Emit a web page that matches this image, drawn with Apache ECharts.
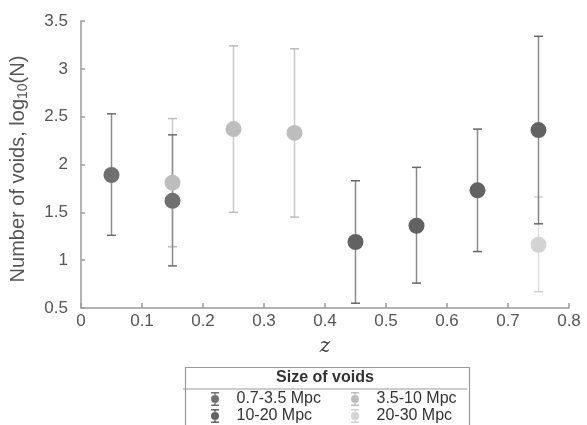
<!DOCTYPE html>
<html>
<head>
    <meta charset="utf-8">
    <title>Voids</title>
    <script src="https://cdn.jsdelivr.net/npm/echarts@6/dist/echarts.min.js"></script>
</head>
<body style="margin:0">
    <div id="main" style="width:587px;height:425px;"></div>
</body>
<script type="text/javascript">
    // categories (void sizes) and their points: z, log10(N), lower, upper
    var sizeNames = ['0.7-3.5 Mpc', '3.5-10 Mpc', '10-20 Mpc', '20-30 Mpc'];
    var zSmall = [0.05, 0.15];
    var nSmall = [1.89, 1.62];
    var loSmall = [1.26, 0.94];
    var hiSmall = [2.53, 2.31];

    var zMid = [0.15, 0.25, 0.35];
    var nMid = [1.81, 2.37, 2.33];
    var loMid = [1.14, 1.50, 1.45];
    var hiMid = [2.48, 3.24, 3.21];

    var zLarge = [0.45, 0.55, 0.65, 0.75];
    var nLarge = [1.19, 1.36, 1.73, 2.36];
    var loLarge = [0.55, 0.76, 1.09, 1.38];
    var hiLarge = [1.83, 1.97, 2.37, 3.34];

    var zHuge = [0.75];
    var nHuge = [1.16];
    var loHuge = [0.67];
    var hiHuge = [1.66];

    var dotColors = ['#707070', '#bdbdbd', '#626262', '#d3d3d3'];
    var barColors = ['#8e8e8e', '#c9c9c9', '#8a8a8a', '#dcdcdc'];
    var capColors = ['#6c6c6c', '#bcbcbc', '#666666', '#d0d0d0'];

    var groups = [
        [zSmall, nSmall, loSmall, hiSmall],
        [zMid, nMid, loMid, hiMid],
        [zLarge, nLarge, loLarge, hiLarge],
        [zHuge, nHuge, loHuge, hiHuge]
    ];

    function errorSeries(idx) {
        var g = groups[idx];
        return {
            type: 'custom',
            name: sizeNames[idx],
            z: 2,
            itemStyle: { color: dotColors[idx] },
            data: g[0].map(function (z, i) { return [z, g[2][i], g[3][i]]; }),
            renderItem: function (params, api) {
                var lo = api.coord([api.value(0), api.value(1)]);
                var hi = api.coord([api.value(0), api.value(2)]);
                var w = 4.5;
                return {
                    type: 'group',
                    children: [
                        { type: 'line', shape: { x1: lo[0], y1: lo[1], x2: hi[0], y2: hi[1] },
                          style: { stroke: barColors[idx], lineWidth: 1.5 } },
                        { type: 'line', shape: { x1: lo[0] - w, y1: lo[1], x2: lo[0] + w, y2: lo[1] },
                          style: { stroke: capColors[idx], lineWidth: 1.5 } },
                        { type: 'line', shape: { x1: hi[0] - w, y1: hi[1], x2: hi[0] + w, y2: hi[1] },
                          style: { stroke: capColors[idx], lineWidth: 1.5 } }
                    ]
                };
            }
        };
    }

    function dotSeries(idx) {
        var g = groups[idx];
        return {
            type: 'scatter',
            name: sizeNames[idx],
            z: 3,
            symbolSize: 16,
            itemStyle: { color: dotColors[idx], opacity: 1 },
            data: g[0].map(function (z, i) { return [z, g[1][i]]; })
        };
    }

    // dots first so the legend picks up their colours; z keeps them on top
    var series = [];
    [1, 3, 0, 2].forEach(function (i) { series.push(dotSeries(i)); });
    [1, 3, 0, 2].forEach(function (i) { series.push(errorSeries(i)); });

    var font = 'Liberation Sans, Arial, sans-serif';
    var axisGray = '#9a9a9a';
    // little dot with error bar, for the legend
    var legendIcon = 'path://M1,0H9V1.4H5.7V3.2H4.3V1.4H1Z M1,7A4,4 0 1,0 9,7A4,4 0 1,0 1,7Z M4.3,10.8H5.7V12.6H9V14H1V12.6H4.3Z';

    var legendPos = [[211, 391], [351, 391], [211, 408], [351, 408]];
    var legends = sizeNames.map(function (name, i) {
        return {
            left: legendPos[i][0], top: legendPos[i][1],
            itemWidth: 9, itemHeight: 14, icon: legendIcon, padding: 0,
            selectedMode: false,
            formatter: '{t|{name}}',
            textStyle: {
                rich: { t: { fontFamily: font, fontSize: 16, color: '#333', padding: [0, 0, 0, 12] } }
            },
            data: [name]
        };
    });

    var chart = echarts.init(document.getElementById('main'));
    chart.setOption({
        backgroundColor: '#fff',
        animation: false,
        grid: { left: 76, right: 18, top: 21, bottom: 117 },
        xAxis: {
            type: 'value', min: 0, max: 0.8, interval: 0.1,
            name: 'z', nameLocation: 'middle', nameGap: 29,
            nameTextStyle: { fontFamily: 'DejaVu Serif, serif', fontStyle: 'italic', fontSize: 20, color: '#333' },
            axisLine: { lineStyle: { color: axisGray, width: 1.5 } },
            axisTick: { inside: true, length: 5, lineStyle: { color: axisGray, width: 1.5 } },
            axisLabel: { color: '#555', fontSize: 17, fontFamily: font, margin: 5 },
            splitLine: { show: false }
        },
        yAxis: {
            type: 'value', min: 0.5, max: 3.5, interval: 0.5,
            name: 'Number of voids, log{sub|10}(N)', nameLocation: 'middle', nameGap: 51,
            nameTextStyle: { fontFamily: font, fontSize: 20, color: '#555', padding: [0, 9, 0, 0],
                rich: { sub: { fontFamily: font, fontSize: 14, color: '#555', padding: [10, 0, 0, 0] } } },
            axisLine: { show: true, lineStyle: { color: axisGray, width: 1.5 } },
            axisTick: { show: true, inside: true, length: 4, lineStyle: { color: axisGray, width: 1.5 } },
            axisLabel: { color: '#555', fontSize: 17, fontFamily: font, margin: 13 },
            splitLine: { show: false }
        },
        legend: legends,
        graphic: [
            { type: 'rect', left: 183, top: 365, shape: { width: 284, height: 70 },
              style: { fill: 'none', stroke: '#999', lineWidth: 1.2 }, silent: true },
            { type: 'line', shape: { x1: 183, y1: 389, x2: 467, y2: 389 },
              style: { stroke: '#999', lineWidth: 1.2 }, silent: true },
            { type: 'text', x: 325, y: 378,
              style: { text: 'Size of voids', font: 'bold 16px ' + font, fill: '#333',
                       textAlign: 'center', textVerticalAlign: 'middle' } }
        ],
        series: series
    });
</script>
</html>
